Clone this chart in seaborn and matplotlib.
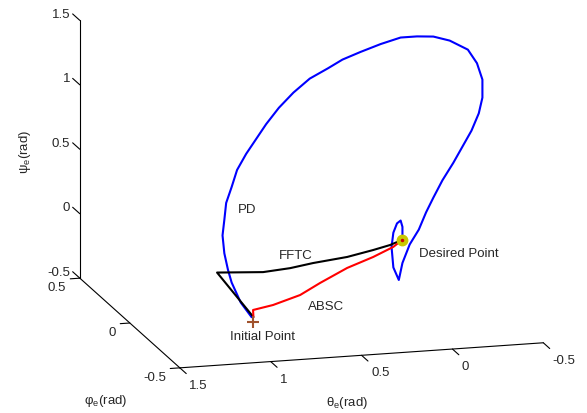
import numpy as np
import matplotlib
matplotlib.use("Agg")
import matplotlib.pyplot as plt
import seaborn as sns
from mpl_toolkits.mplot3d import proj3d

# ---------------- data (theta_e, phi_e, psi_e in rad) ----------------
pd_theta = [0.83, 0.89, 0.94, 0.96, 0.98, 0.99, 0.98, 0.97, 0.94, 0.91, 0.86, 0.80, 0.75,
            0.68, 0.60, 0.51, 0.41, 0.33, 0.23, 0.12, 0.01, -0.08, -0.17, -0.26, -0.36,
            -0.41, -0.44, -0.44, -0.42, -0.38, -0.33, -0.28, -0.22, -0.17, -0.13, -0.09,
            -0.04, 0.00, 0.02, 0.05, 0.06, 0.05, 0.03, 0.01, 0.00, 0.00]
pd_psi = [-0.52, -0.40, -0.24, -0.14, -0.01, 0.13, 0.25, 0.38, 0.50, 0.63, 0.75, 0.87, 0.97,
          1.09, 1.20, 1.30, 1.37, 1.43, 1.48, 1.53, 1.57, 1.57, 1.56, 1.52, 1.44,
          1.33, 1.20, 1.06, 0.94, 0.81, 0.69, 0.57, 0.44, 0.31, 0.20, 0.07,
          -0.04, -0.18, -0.31, -0.21, -0.05, 0.06, 0.13, 0.15, 0.10, 0.00]
pd_phi = [0.0] * len(pd_theta)

fftc_theta = [0.82, 0.855, 0.643, 0.519, 0.413, 0.256, 0.137, 0.059, 0.0]
fftc_phi = [0.0, 0.30, 0.225, 0.180, 0.143, 0.087, 0.044, 0.016, 0.0]
fftc_psi = [-0.52, -0.38, -0.345, -0.295, -0.24, -0.169, -0.097, -0.046, 0.0]

absc_theta = [0.82, 0.822, 0.712, 0.563, 0.453, 0.304, 0.161, 0.051, 0.0]
absc_phi = [0.0, 0.0, 0.0, 0.0, 0.0, 0.0, 0.0, 0.0, 0.0]
absc_psi = [-0.52, -0.465, -0.437, -0.374, -0.291, -0.189, -0.118, -0.051, 0.0]

initial_point = (0.82, 0.0, -0.56)   # theta, phi, psi
desired_point = (0.0, 0.0, 0.0)

theta_ticks = [-0.5, 0, 0.5, 1, 1.5]
phi_ticks = [-0.5, 0, 0.5]
psi_ticks = [-0.5, 0, 0.5, 1, 1.5]

# ---------------- style ----------------
sns.set_theme(style="white")
plt.rcParams["font.family"] = ["Liberation Sans", "DejaVu Sans"]
plt.rcParams["mathtext.fontset"] = "custom"
plt.rcParams["mathtext.rm"] = "Liberation Sans"
plt.rcParams["mathtext.it"] = "Liberation Sans"
FS = 9.5

W, H = 587, 413
fig = plt.figure(figsize=(W / 100, H / 100), dpi=100)
fig.patch.set_facecolor("white")
ax = fig.add_axes([0, 0, 1, 1], projection="3d", proj_type="ortho",
                  computed_zorder=False)
ax.set_facecolor("white")
# mpl axes: x = phi_e, y = theta_e, z = psi_e
ax.set_box_aspect((374, 377, 266))
ax.view_init(elev=14.4, azim=164.5)

ax.plot(pd_phi, pd_theta, pd_psi, color="#0000FF", lw=1.5)
ax.plot(fftc_phi, fftc_theta, fftc_psi, color="black", lw=1.5)
ax.plot(absc_phi, absc_theta, absc_psi, color="#FF0000", lw=1.5)
ax.plot([desired_point[1]], [desired_point[0]], [desired_point[2]], "o",
        color="#C8C800", ms=7.5)
ax.plot([desired_point[1]], [desired_point[0]], [desired_point[2]], ".",
        color="#CC0000", ms=3)
ax.plot([initial_point[1]], [initial_point[0]], [initial_point[2]], "+",
        color="#A0522D", ms=9, mew=1.5)

ax.set_xlim(-0.5, 0.5)
ax.set_ylim(-0.5, 1.5)
ax.set_zlim(-0.5, 1.5)
ax.set_xticks(phi_ticks)
ax.set_yticks(theta_ticks)
ax.set_zticks(psi_ticks)
ax.set_xticklabels([""] * len(phi_ticks))
ax.set_yticklabels([""] * len(theta_ticks))
ax.set_zticklabels([""] * len(psi_ticks))
ax.zaxis.set_ticks_position("upper")
ax.zaxis._get_tickdir = lambda *args, **kwargs: 0   # z ticks point along phi
ax.grid(False)
for axis in (ax.xaxis, ax.yaxis, ax.zaxis):
    axis.pane.fill = False
    axis.pane.set_edgecolor((1, 1, 1, 0))
    axis.line.set_color("black")
    axis.line.set_linewidth(0.8)
    axis._axinfo["tick"]["linewidth"] = {True: 0.8, False: 0.8}
    axis._axinfo["tick"]["color"] = "black"
ax.xaxis._axinfo["tick"]["inward_factor"] = 0.33
ax.xaxis._axinfo["tick"]["outward_factor"] = 0.0
ax.yaxis._axinfo["tick"]["inward_factor"] = 0.8
ax.yaxis._axinfo["tick"]["outward_factor"] = 0.0
ax.zaxis._axinfo["tick"]["inward_factor"] = 0.0
ax.zaxis._axinfo["tick"]["outward_factor"] = 0.9
ax.tick_params(colors="black")

# ---------------- fit the projected box to the layout ----------------
corners = np.array([[-0.5, 1.5, -0.5], [-0.5, -0.5, -0.5], [0.5, 1.5, 1.5]])
targets = np.array([[180, H - 368], [543, H - 343], [80, H - 20]], float)


def project(pts):
    M = ax.get_proj()
    xs, ys, _ = proj3d.proj_transform(pts[:, 0], pts[:, 1], pts[:, 2], M)
    return ax.transData.transform(np.c_[xs, ys])


def fit_once():
    fig.canvas.draw()
    p = project(corners)
    bb = ax.get_position(original=False)
    L0 = bb.width * W
    c0 = np.array([(bb.x0 + bb.width / 2) * W, (bb.y0 + bb.height / 2) * H])
    n = (p - c0) / L0
    A = np.zeros((6, 3)); b = np.zeros(6)
    for i in range(3):
        A[2 * i] = [n[i, 0], 1, 0]; b[2 * i] = targets[i, 0]
        A[2 * i + 1] = [n[i, 1], 0, 1]; b[2 * i + 1] = targets[i, 1]
    L, cx, cy = np.linalg.lstsq(A, b, rcond=None)[0]
    ax.set_position([(cx - L / 2) / W, (cy - L / 2) / H, L / W, L / H])


for _ in range(3):
    fit_once()
fig.canvas.draw()


# ---------------- tick labels (MATLAB-style placement) ----------------
def place(pts, labels, dx, dy, ha):
    pix = project(np.array(pts, float))
    for (px, py), s in zip(pix, labels):
        fig.text((px + dx) / W, (py - dy) / H, s, fontsize=FS, ha=ha, va="center")


place([[-0.5, t, -0.5] for t in theta_ticks], [f"{v:g}" for v in theta_ticks],
      9.5, 18, "left")
place([[p, 1.5, -0.5] for p in phi_ticks], [f"{v:g}" for v in phi_ticks],
      -14, 10, "right")
place([[0.5, 1.5, z] for z in psi_ticks], [f"{v:g}" for v in psi_ticks],
      -9.5, -5.5, "right")


# ---------------- text ----------------
def ftext(x, y, s, **kw):
    fig.text(x / W, 1 - y / H, s, fontsize=FS, ha="center", va="center", **kw)


ftext(247, 210, "PD")
ftext(296, 256, "FFTC")
ftext(326, 307, "ABSC")
ftext(262, 337, "Initial Point")
ftext(459, 254, "Desired Point")
ftext(25, 152, r"ψ$_{\mathrm{e}}$(rad)", rotation=90)
ftext(106, 401, r"φ$_{\mathrm{e}}$(rad)")
ftext(347, 403, r"θ$_{\mathrm{e}}$(rad)")

fig.savefig("out.png", dpi=100, facecolor="white")
